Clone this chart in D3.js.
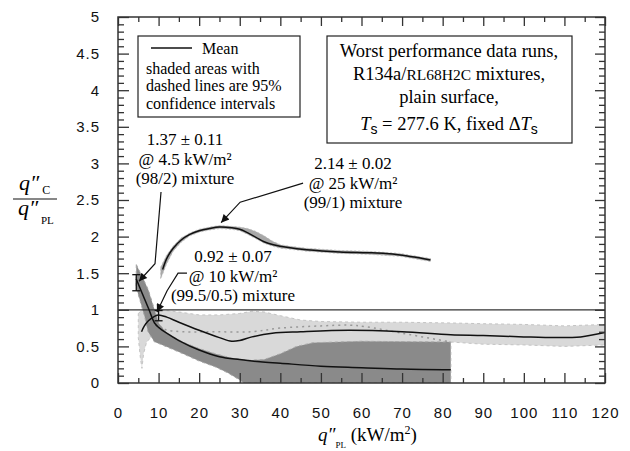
<!DOCTYPE html>
<html>
<head>
<meta charset="utf-8">
<script src="https://cdn.jsdelivr.net/npm/d3@7"></script>
<style>
body { margin: 0; background: #fff; }
svg { display: block; }
.tick text { font-family: "Liberation Sans", Arial, sans-serif; font-size: 15px; letter-spacing: 1px; fill: #111; }
.serif { font-family: "Liberation Serif", "Times New Roman", serif; fill: #000; }
</style>
</head>
<body>
<svg width="630" height="451"></svg>
<script>
// DATA (x in kW/m2, y = q"C / q"PL)

const X_TICKS = [0, 10, 20, 30, 40, 50, 60, 70, 80, 90, 100, 110, 120];
const Y_TICKS = [0, 0.5, 1, 1.5, 2, 2.5, 3, 3.5, 4, 4.5, 5];

// (98/2) mixture
const mean98 = [[4.5,1.42],[6,1.22],[7.5,1.02],[9,0.82],[10,0.76],[12,0.68],[15,0.58],[20,0.45],[25,0.36],[30,0.32],[35,0.29],[40,0.27],[50,0.23],[60,0.21],[70,0.19],[82,0.18]];
const band98Hi = [[4.5,1.62],[6,1.45],[7.5,1.27],[9,1.0],[10,0.82],[12,0.68],[16,0.56],[20,0.47],[24,0.40],[28,0.34],[32,0.31],[36,0.32],[40,0.40],[44,0.50],[48,0.55],[60,0.57],[82,0.56]];
const band98Lo = [[4.5,1.3],[5.4,1.13],[6.6,0.9],[7.4,0.7],[9,0.56],[10,0.54],[13,0.47],[16,0.40],[20,0.30],[24,0.22],[27,0.14],[30,0.04],[31,0],[82,0]];
const band98Dotted = [[7.5,0.84],[9,0.8],[11.6,0.73],[16,0.7],[24,0.7],[33,0.7],[40,0.75],[50,0.78],[57,0.79],[61,0.77],[70,0.68],[82,0.56]];

// (99.5/0.5) mixture
const mean995 = [[5.8,0.70],[6.5,0.78],[7.5,0.85],[9,0.91],[10,0.93],[12,0.9],[15,0.83],[20,0.72],[25,0.62],[28,0.57],[30,0.58],[33,0.63],[38,0.68],[45,0.70],[57,0.72],[70,0.70],[82,0.66],[90,0.65],[100,0.63],[108,0.62],[114,0.63],[120,0.69]];
const band995Hi = [[5,0.95],[6,1.0],[8,1.02],[10,1.0],[15,0.97],[20,0.93],[25,0.93],[30,0.95],[33,0.98],[36,0.97],[40,0.92],[45,0.86],[50,0.84],[60,0.83],[70,0.83],[82,0.82],[90,0.81],[100,0.80],[110,0.78],[120,0.80]];
const band995Lo = [[5,0.62],[5.5,0.35],[5.9,0.2],[6.3,0.4],[7,0.55],[8,0.62],[10,0.64],[12,0.6],[16,0.5],[20,0.42],[24,0.35],[28,0.3],[32,0.28],[36,0.3],[40,0.38],[44,0.48],[48,0.54],[60,0.57],[82,0.56],[90,0.53],[100,0.52],[110,0.50],[120,0.52]];

// (99/1) mixture
const mean991 = [[11,1.55],[12,1.7],[13.6,1.84],[15.5,1.95],[17.7,2.03],[20,2.08],[22.5,2.11],[25,2.13],[28,2.12],[30,2.10],[32,2.05],[34,1.99],[36,1.93],[38.3,1.89],[42,1.85],[46.5,1.82],[54.7,1.79],[61.3,1.78],[66,1.77],[69.5,1.75],[73,1.72],[77,1.68]];
const band991Hi = [[10.5,1.58],[12,1.75],[13.6,1.87],[15.5,1.98],[17.7,2.05],[20,2.10],[22.5,2.13],[25,2.15],[28,2.14],[30,2.13],[32,2.11],[34,2.07],[36,2.01],[38,1.94],[40,1.89],[42,1.87],[46.5,1.84],[54.7,1.81],[61.3,1.80],[69.5,1.77],[77,1.70]];
const band991Lo = [[10.5,1.42],[12,1.63],[13.6,1.80],[15.5,1.92],[17.7,2.01],[20,2.06],[22.5,2.09],[25,2.11],[28,2.10],[30,2.08],[32,2.03],[34,1.97],[36,1.91],[38,1.87],[40,1.84],[42,1.83],[46.5,1.80],[54.7,1.77],[61.3,1.76],[69.5,1.73],[77,1.66]];

// highlighted points with visible interval bars: x, mean, +/- 95% interval
const errPoints = [{x:4.5, m:1.37, e:0.11}, {x:10, m:0.92, e:0.07}];

// leader arrows, data coordinates, last point is the arrow tip
const leaders = [
    [[10.6,2.61],[9.12,1.63],[5.17,1.39]],
    [[45.6,2.73],[30.1,2.47],[25.4,2.19]],
    [[17.0,1.50],[14.8,1.50],[12.1,1.26],[9.6,0.97]]
];

// LAYOUT
const PLOT = {left:118, right:605, top:17, bottom:383};
const LIGHT = "#d9d9d9", DARK = "#8a8a8a", MID = "#a8a8a8";

const svg = d3.select("svg");
const x = d3.scaleLinear().domain([0,120]).range([PLOT.left, PLOT.right]);
const y = d3.scaleLinear().domain([0,5]).range([PLOT.bottom, PLOT.top]);

const line = d3.line().x(d => x(d[0])).y(d => y(d[1]));
const smooth = d3.line().x(d => x(d[0])).y(d => y(d[1])).curve(d3.curveCatmullRom.alpha(0.5));

function bandPath(hi, lo) {
    return line(hi.concat(lo.slice().reverse())) + "Z";
}

const defs = svg.append("defs");
defs.append("clipPath").attr("id","plotclip")
    .append("rect").attr("x",PLOT.left).attr("y",PLOT.top)
    .attr("width",PLOT.right-PLOT.left).attr("height",PLOT.bottom-PLOT.top);
defs.append("marker").attr("id","arrow")
    .attr("viewBox","0 0 10 10").attr("refX",10).attr("refY",5)
    .attr("markerWidth",11).attr("markerHeight",8).attr("markerUnits","userSpaceOnUse")
    .attr("orient","auto")
    .append("path").attr("d","M0,0L10,5L0,10Z").attr("fill","#111");

const plot = svg.append("g").attr("clip-path","url(#plotclip)");

// light band (99.5/0.5)
plot.append("path").attr("d", bandPath(band995Hi, band995Lo))
    .attr("fill", LIGHT).attr("stroke","#c4c4c4").attr("stroke-width",1).attr("stroke-dasharray","3,3");
// dark band (98/2)
plot.append("path").attr("d", bandPath(band98Hi, band98Lo))
    .attr("fill", DARK).attr("stroke","#a8a8a8").attr("stroke-width",1).attr("stroke-dasharray","3,3");
plot.append("path").attr("d", smooth(band98Dotted))
    .attr("fill","none").attr("stroke","#999").attr("stroke-width",1.5).attr("stroke-dasharray","2,4");
// band (99/1)
plot.append("path").attr("d", bandPath(band991Hi, band991Lo))
    .attr("fill", MID).attr("stroke","#bbb").attr("stroke-width",0.8).attr("stroke-dasharray","2,2");

// reference line at 1
plot.append("line")
    .attr("x1", x(0)).attr("x2", x(120)).attr("y1", y(1)).attr("y2", y(1))
    .attr("stroke","#333").attr("stroke-width",1.2);

// means
[mean98, mean995, mean991].forEach(s => {
    plot.append("path").attr("d", smooth(s))
        .attr("fill","none").attr("stroke","#111").attr("stroke-width",1.5);
});

// error bars
errPoints.forEach(p => {
    const g = plot.append("g").attr("stroke","#111").attr("stroke-width",1.3);
    g.append("line").attr("x1",x(p.x)).attr("x2",x(p.x)).attr("y1",y(p.m-p.e)).attr("y2",y(p.m+p.e));
    [p.m-p.e, p.m+p.e].forEach(v => {
        g.append("line").attr("x1",x(p.x)-4).attr("x2",x(p.x)+4).attr("y1",y(v)).attr("y2",y(v));
    });
});

// AXES (ticks inward on all four sides)
const X_MINOR = X_TICKS.slice(0,-1).map(d => d + 5);
const Y_MINOR = d3.range(0, 50).map(i => i/10).filter(d => Math.round(d*10) % 5 !== 0);

function styleAxis(g) {
    g.select(".domain").remove();
    g.selectAll(".tick line").attr("stroke","#333").attr("stroke-width",1.3);
}

svg.append("g").attr("transform",`translate(0,${PLOT.bottom})`)
    .call(d3.axisBottom(x).tickValues(X_TICKS).tickSize(-10).tickPadding(24).tickFormat(d => d))
    .call(styleAxis);
svg.append("g").attr("transform",`translate(0,${PLOT.bottom})`)
    .call(d3.axisBottom(x).tickValues(X_MINOR).tickSize(-5).tickFormat(""))
    .call(styleAxis);
svg.append("g").attr("transform",`translate(0,${PLOT.top})`)
    .call(d3.axisTop(x).tickValues(X_TICKS).tickSize(-9).tickFormat(""))
    .call(styleAxis);
svg.append("g").attr("transform",`translate(0,${PLOT.top})`)
    .call(d3.axisTop(x).tickValues(X_MINOR).tickSize(-5).tickFormat(""))
    .call(styleAxis);
svg.append("g").attr("transform",`translate(${PLOT.left},0)`)
    .call(d3.axisLeft(y).tickValues(Y_TICKS).tickSize(-11).tickPadding(18).tickFormat(d => String(d)))
    .call(styleAxis);
svg.append("g").attr("transform",`translate(${PLOT.left},0)`)
    .call(d3.axisLeft(y).tickValues(Y_MINOR).tickSize(-6).tickFormat(""))
    .call(styleAxis);
svg.append("g").attr("transform",`translate(${PLOT.right},0)`)
    .call(d3.axisRight(y).tickValues(Y_TICKS).tickSize(-10).tickFormat(""))
    .call(styleAxis);
svg.append("g").attr("transform",`translate(${PLOT.right},0)`)
    .call(d3.axisRight(y).tickValues(Y_MINOR).tickSize(-6).tickFormat(""))
    .call(styleAxis);

svg.append("rect")
    .attr("x",PLOT.left).attr("y",PLOT.top)
    .attr("width",PLOT.right-PLOT.left).attr("height",PLOT.bottom-PLOT.top)
    .attr("fill","none").attr("stroke","#333").attr("stroke-width",1.5);

// leaders
leaders.forEach(pts => {
    svg.append("path").attr("d", line(pts))
        .attr("fill","none").attr("stroke","#111").attr("stroke-width",1.2)
        .attr("marker-end","url(#arrow)");
});

// LEGEND BOX
svg.append("rect").attr("x",138).attr("y",36).attr("width",162).attr("height",81)
    .attr("fill","#fff").attr("stroke","#222").attr("stroke-width",1.2);
svg.append("line").attr("x1",151).attr("x2",192).attr("y1",48).attr("y2",48)
    .attr("stroke","#111").attr("stroke-width",1.5);
svg.append("text").attr("class","serif").attr("x",202).attr("y",54)
    .style("font-size","16px").text("Mean");
const legText = svg.append("text").attr("class","serif").style("font-size","16px");
["shaded areas with", "dashed lines are 95%", "confidence intervals"].forEach((t,i) => {
    legText.append("tspan").attr("x",146).attr("y",73.5 + i*17.8).text(t);
});

// INFO BOX
svg.append("rect").attr("x",327).attr("y",36).attr("width",245).attr("height",107)
    .attr("fill","#fff").attr("stroke","#222").attr("stroke-width",1.2);
const info = svg.append("text").attr("class","serif").attr("text-anchor","middle").style("font-size","18.5px");
info.append("tspan").attr("x",449).attr("y",57).text("Worst performance data runs,");
const l2 = info.append("tspan").attr("x",449).attr("y",80);
l2.append("tspan").text("R134a/");
l2.append("tspan").style("font-size","15.5px").text("RL68H2C");
l2.append("tspan").text(" mixtures,");
info.append("tspan").attr("x",449).attr("y",103).text("plain surface,");
const l4 = info.append("tspan").attr("x",449).attr("y",130);
l4.append("tspan").style("font-style","italic").text("T");
l4.append("tspan").attr("dy",4).style("font-size","14px").style("font-family","Liberation Sans, Arial, sans-serif").text("s");
l4.append("tspan").attr("dy",-4).text(" = 277.6 K, fixed Δ");
l4.append("tspan").style("font-style","italic").text("T");
l4.append("tspan").attr("dy",4).style("font-size","14px").style("font-family","Liberation Sans, Arial, sans-serif").text("s");

// ANNOTATIONS
const notes = [
    {cx:185, y0:145, lines:["1.37 ± 0.11", "@ 4.5 kW/m²", "(98/2) mixture"]},
    {cx:353, y0:169, lines:["2.14 ± 0.02", "@ 25 kW/m²", "(99/1) mixture"]},
    {cx:233, y0:262, lines:["0.92 ± 0.07", "@ 10 kW/m²", "(99.5/0.5) mixture"]}
];
notes.forEach(n => {
    const t = svg.append("text").attr("class","serif").attr("text-anchor","middle").style("font-size","17px");
    n.lines.forEach((s,i) => {
        t.append("tspan").attr("x",n.cx).attr("y",n.y0 + i*19.5).text(s);
    });
});

// AXIS TITLES
const yt = svg.append("g").attr("class","serif");
yt.append("line").attr("x1",13).attr("x2",57).attr("y1",199).attr("y2",199)
    .attr("stroke","#111").attr("stroke-width",1.2);
const num = yt.append("text").attr("x",19).attr("y",190).style("font-size","22px");
num.append("tspan").style("font-style","italic").text("q″");
num.append("tspan").attr("dy",4).style("font-size","12px").text(" C");
const den = yt.append("text").attr("x",18).attr("y",215).style("font-size","22px");
den.append("tspan").style("font-style","italic").text("q″");
den.append("tspan").attr("dy",9).style("font-size","11px").text(" PL");

const xt = svg.append("text").attr("class","serif").attr("x",318).attr("y",441).style("font-size","19px");
xt.append("tspan").style("font-style","italic").text("q″");
xt.append("tspan").attr("dy",7).style("font-size","9px").text("PL");
xt.append("tspan").attr("dy",-7).text(" (kW/m");
xt.append("tspan").attr("dy",-7).style("font-size","12px").text("2");
xt.append("tspan").attr("dy",7).text(")");
</script>
</body>
</html>
